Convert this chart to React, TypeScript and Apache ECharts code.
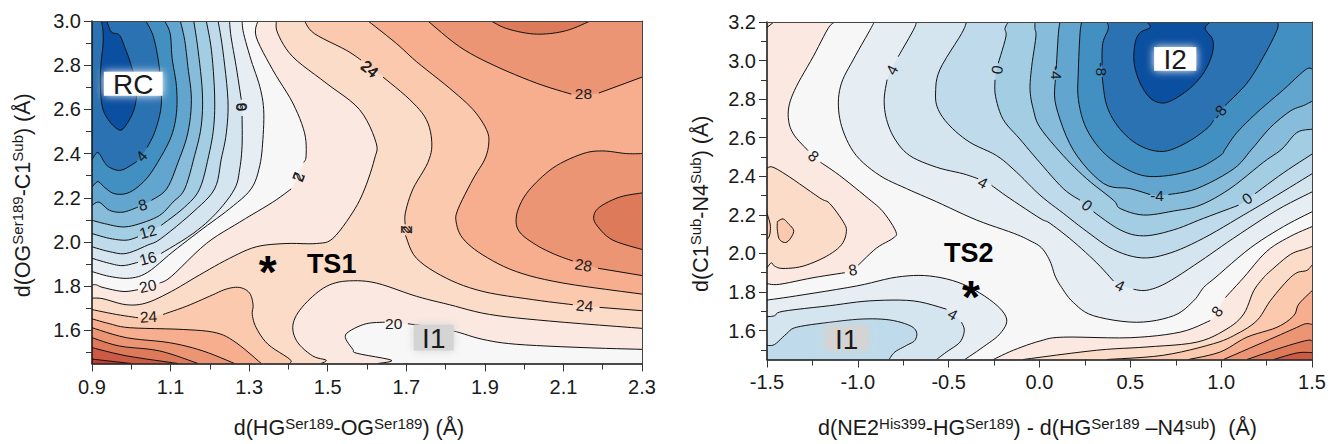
import React, { useEffect, useRef } from "react";
import * as echarts from "echarts";

type Pt = number[] | null;
const n = null;

// ---- Contours of the left surface, one list per line, in axis units (x, y); null lifts the pen at a label ----
const L2: Pt[] = [[.924,3],[.928,2.951],[.928,2.891],[.923,2.809],[.921,2.719],[.926,2.614],[.941,2.554],[.964,2.512],[.979,2.512],[1.0,2.569],[1.011,2.629],[1.013,2.704],[.998,2.809],[.983,2.883],[.97,2.936],[.949,2.951],[.938,3]];
const L4: Pt[] = [[1.037,3],[1.055,2.936],[1.068,2.831],[1.076,2.704],[1.075,2.599],[1.059,2.494],[1.04,2.427],n,[1.014,2.364],[.975,2.325],[.945,2.337],[.932,2.36],[.915,2.405],[.9,2.372]];
const L6: Pt[] = [[1.085,3],[1.099,2.943],[1.104,2.831],[1.115,2.704],[1.115,2.584],[1.102,2.479],[1.072,2.375],[1.038,2.285],[.996,2.225],[.958,2.218],[.932,2.247],[.915,2.273],[.9,2.248]];
const L8: Pt[] = [[1.125,3],[1.136,2.913],[1.144,2.794],[1.153,2.644],[1.144,2.494],[1.119,2.36],[1.09,2.24],[1.051,2.188],n,[1.017,2.158],[.979,2.135],[.945,2.143],[.918,2.18],[.9,2.165]];
const L10: Pt[] = [[1.159,3],[1.17,2.868],[1.181,2.674],[1.178,2.524],[1.161,2.39],[1.136,2.24],[1.106,2.18],[1.072,2.12],[1.022,2.083],[.979,2.068],[.932,2.083],[.9,2.098]];
const L12: Pt[] = [[1.191,3],[1.204,2.868],[1.212,2.674],[1.21,2.524],[1.197,2.39],[1.174,2.24],[1.136,2.158],[1.076,2.075],n,[1.017,2.023],[.987,2.008],[.945,2.016],[.9,2.038]];
const L14: Pt[] = [[1.221,3],[1.233,2.868],[1.246,2.644],[1.242,2.494],[1.229,2.375],[1.212,2.24],[1.157,2.135],[1.076,2.016],[1.042,1.986],[.987,1.948],[.945,1.956],[.9,1.978]];
const L16: Pt[] = [[1.25,3],[1.254,2.928],[1.267,2.794],[1.28,2.644],n,[1.282,2.57],[1.282,2.435],[1.276,2.33],[1.263,2.24],[1.216,2.13],[1.157,2.038],[1.076,1.948],n,[1.017,1.908],[.979,1.893],[.945,1.903],[.9,1.926]];
const L18: Pt[] = [[1.282,3],[1.286,2.943],[1.305,2.823],[1.327,2.704],[1.337,2.599],[1.335,2.464],[1.327,2.345],[1.305,2.24],[1.25,2.15],[1.182,2.06],[1.106,1.956],[1.042,1.863],[.996,1.836],[.945,1.844],[.9,1.866]];
const L20: Pt[] = [[1.322,3],[1.318,2.928],[1.36,2.779],[1.411,2.629],[1.441,2.494],[1.445,2.39],[1.439,2.36],n,[1.407,2.24],[1.36,2.18],[1.276,2.09],[1.191,1.993],[1.102,1.844],[1.072,1.814],n,[1.017,1.784],[.979,1.776],[.928,1.794],[.911,1.806],[.9,1.806]];
const L20i: Pt[] = [[2.3,1.514],[2.15,1.522],[1.98,1.537],[1.895,1.559],[1.827,1.594],[1.776,1.612],[1.704,1.63],n,[1.645,1.637],[1.598,1.63],[1.556,1.597],[1.545,1.567],[1.564,1.514],[1.575,1.496],[1.662,1.465],[1.628,1.45]];
const L22: Pt[] = [[1.369,3],[1.373,2.943],[1.411,2.838],[1.496,2.719],[1.581,2.599],[1.623,2.45],[1.619,2.375],[1.594,2.24],[1.564,2.135],[1.513,2.016],[1.471,1.993],[1.394,1.993],[1.318,1.978],[1.25,1.926],[1.174,1.851],[1.102,1.776],[1.038,1.724],[.987,1.716],[.928,1.743],[.9,1.746]];
const L22i: Pt[] = [[2.3,1.609],[2.065,1.642],[1.912,1.672],[1.81,1.716],[1.726,1.754],[1.624,1.814],[1.556,1.824],[1.505,1.806],[1.462,1.754],[1.424,1.679],[1.411,1.612],[1.424,1.544],[1.462,1.484],[1.496,1.465],[1.483,1.45]];
const L24: Pt[] = [[1.441,3],[1.466,2.943],[1.547,2.868],[1.585,2.823],n,[1.641,2.746],[1.709,2.644],[1.751,2.554],[1.765,2.449],[1.755,2.36],[1.717,2.24],[1.698,2.135],[1.697,2.08],n,[1.698,2.03],[1.726,1.926],[1.802,1.836],[1.895,1.776],[2.022,1.739],[2.124,1.716],n,[2.192,1.704],[2.3,1.689]];
const L24b: Pt[] = [[.9,1.694],[.962,1.672],[1.017,1.657],n,[1.081,1.672],[1.14,1.709],[1.199,1.754],[1.242,1.787],[1.276,1.794],[1.301,1.769],[1.31,1.716],[1.308,1.672],[1.318,1.612],[1.348,1.537],[1.403,1.47],[1.403,1.45]];
const L26: Pt[] = [[1.603,3],[1.675,2.898],[1.726,2.816],[1.81,2.696],[1.87,2.599],[1.904,2.509],[1.91,2.449],[1.9,2.375],[1.87,2.285],[1.832,2.15],[1.827,2.09],[1.844,2.016],[1.895,1.941],[1.98,1.866],[2.099,1.814],[2.3,1.764]];
const L26b: Pt[] = [[.9,1.652],[.945,1.63],[.996,1.612],[1.132,1.604],[1.216,1.589],[1.267,1.544],[1.331,1.45]];
const L28: Pt[] = [[1.755,3],[1.836,2.883],[1.921,2.801],[2.031,2.719],[2.12,2.669],n,[2.19,2.674],[2.3,2.746]];
const L28r: Pt[] = [[2.3,2.4],[2.26,2.4],[2.2,2.412],[2.15,2.4],[2.082,2.345],[2.031,2.27],[1.997,2.195],[1.98,2.113],[1.988,2.046],[2.031,1.986],[2.082,1.941],[2.124,1.914],n,[2.188,1.881],[2.3,1.848]];
const L28b: Pt[] = [[.9,1.612],[.987,1.567],[1.098,1.544],[1.182,1.507],[1.263,1.45]];
const L30: Pt[] = [[1.916,3],[1.955,2.966],[2.014,2.943],[2.065,2.943],[2.116,2.961],[2.168,3]];
const L30r: Pt[] = [[2.3,2.222],[2.243,2.203],[2.192,2.158],[2.177,2.113],[2.188,2.068],[2.226,2.008],[2.3,1.966]];
const L30b: Pt[] = [[.9,1.567],[.97,1.529],[1.072,1.507],[1.17,1.45]];
const L32b: Pt[] = [[.9,1.522],[.987,1.485],[1.119,1.45]];
const L34b: Pt[] = [[.9,1.47],[1.0,1.45]];

// ---- Contours of the right surface ----
const Rm10: Pt[] = [[.591,3.2],[.609,3.171],[.554,3.145],[.526,3.089],[.521,2.986],[.554,2.883],[.609,2.806],[.673,2.78],[.738,2.798],[.83,2.858],[.903,2.935],[.949,3.029],[.954,3.106],[.912,3.166],[.94,3.2]];
const Rm8: Pt[] = [[.37,3.2],[.379,3.166],[.348,3.089],[.344,2.975],n,[.345,2.915],[.371,2.764],[.444,2.644],[.554,2.558],[.682,2.529],[.811,2.575],[.921,2.647],[.958,2.69],n,[1.022,2.767],[1.142,2.883],[1.233,3.02],[1.307,3.157],[1.311,3.2]];
const Rm6: Pt[] = [[.232,3.2],[.223,3.14],[.214,2.952],[.214,2.798],[.26,2.644],[.37,2.507],[.535,2.413],[.682,2.401],[.866,2.439],[.995,2.507],[1.022,2.541],[1.087,2.627],[1.197,2.73],[1.344,2.85],[1.463,2.952],[1.5,2.957]];
const Rm4: Pt[] = [[.113,3.2],[.104,3.14],[.092,2.958],n,[.087,2.9],[.091,2.764],[.187,2.534],[.352,2.363],[.499,2.336],[.609,2.305],n,[.71,2.305],[.866,2.336],[1.068,2.438],[1.169,2.541],[1.27,2.652],[1.38,2.738],[1.454,2.767],[1.5,2.789]];
const Rm2: Pt[] = [[-.025,3.2],[-.025,3.166],[-.02,3.123],[-.043,2.969],[-.052,2.849],[-.034,2.747],[.003,2.653],[.131,2.507],[.26,2.387],[.407,2.276],[.444,2.233],[.573,2.199],[.738,2.22],[.884,2.25],[1.049,2.336],[1.233,2.473],[1.334,2.541],[1.417,2.627],[1.5,2.644]];
const R0: Pt[] = [[-.172,3.2],[-.19,3.166],[-.185,3.123],[-.227,2.986],n,[-.245,2.9],[-.242,2.815],[-.2,2.695],[-.108,2.593],[0,2.473],[.131,2.336],[.223,2.276],n,[.297,2.216],[.444,2.122],[.573,2.091],[.738,2.122],[.903,2.182],[1.096,2.25],n,[1.187,2.31],[1.343,2.418],[1.5,2.515]];
const R2: Pt[] = [[-.402,3.2],[-.429,3.14],[-.549,2.952],[-.572,2.832],[-.558,2.747],[-.493,2.661],[-.383,2.576],[-.236,2.507],[-.126,2.421],[.003,2.302],[.131,2.208],[.26,2.114],[.407,2.02],[.563,1.977],[.719,2.002],[.903,2.079],[1.123,2.199],[1.306,2.301],[1.5,2.413]];
const R4: Pt[] = [[-.677,3.2],[-.695,3.157],[-.778,3.02],n,[-.839,2.901],[-.855,2.798],[-.842,2.695],[-.796,2.593],[-.714,2.507],[-.567,2.447],[-.42,2.413],[-.337,2.387],n,[-.264,2.353],[-.163,2.285],[.003,2.182],[.058,2.156],[.186,2.062],[.315,1.951],[.407,1.857],n,[.517,1.814],[.591,1.809],[.701,1.848],[.884,1.959],[1.068,2.079],[1.306,2.224],[1.5,2.319]];
const R6: Pt[] = [[-.91,3.2],[-.934,3.157],[-1.026,3.003],[-1.09,2.883],[-1.107,2.764],[-1.081,2.635],[-1.008,2.507],[-.879,2.404],[-.732,2.336],[-.567,2.268],[-.346,2.173],[-.144,2.105],[-.052,2.066],[.012,2.028],[.058,1.96],[.086,1.883],[.122,1.823],[.186,1.746],[.297,1.677],[.535,1.643],[.738,1.677],[.848,1.754],[.903,1.823],[.967,1.874],[1.16,2.028],[1.343,2.139],[1.5,2.216]];
const R2b: Pt[] = [[-1.5,1.523],[-1.458,1.528],[-1.393,1.583],[-1.338,1.617],[-1.155,1.643],[-.971,1.66],[-.824,1.655],[-.714,1.626],[-.677,1.592],[-.686,1.549],[-.732,1.523],[-.796,1.489],[-.828,1.45]];
const R4b: Pt[] = [[-1.5,1.672],[-1.458,1.677],[-1.412,1.7],[-1.155,1.729],[-.934,1.754],[-.695,1.754],[-.512,1.711],n,[-.429,1.643],[-.414,1.6],[-.438,1.54],[-.512,1.489],[-.567,1.45]];
const R6b: Pt[] = [[-1.5,1.758],[-1.338,1.78],[-1.008,1.831],[-.787,1.877],[-.604,1.883],[-.42,1.84],[-.254,1.746],[-.181,1.66],[-.218,1.583],[-.31,1.515],[-.411,1.45]];
const R8a: Pt[] = [[-1.127,3.2],[-1.164,3.166],[-1.246,3.02],[-1.338,2.866],[-1.379,2.764],[-1.379,2.678],[-1.348,2.61],[-1.274,2.533],n,[-1.206,2.473],[-1.1,2.404],[-.943,2.285],[-.861,2.216],[-.791,2.114],[-.806,2.079],[-.897,2.028],[-.998,1.939],n,[-1.072,1.9],[-1.247,1.874],[-1.43,1.84],[-1.5,1.843]];
const R8b: Pt[] = [[-.254,1.45],[-.144,1.498],[.003,1.546],[.131,1.566],[.499,1.563],[.775,1.592],[.94,1.652],n,[1.023,1.771],[1.123,1.874],[1.251,2.011],[1.38,2.088],[1.5,2.139]];
const R10a: Pt[] = [[-1.5,3.171],[-1.463,3.2]];
const R10c: Pt[] = [[-1.5,2.442],[-1.467,2.447],[-1.375,2.396],[-1.21,2.288],[-1.155,2.259],[-1.081,2.165],[-1.063,2.114],[-1.09,2.045],[-1.173,1.985],[-1.302,1.934],[-1.412,1.922],[-1.458,1.934],[-1.476,1.951],[-1.5,1.925]];
const R10b: Pt[] = [[-.09,1.45],[.315,1.498],[.591,1.515],[.866,1.54],[1.032,1.609],[1.124,1.686],[1.179,1.806],[1.233,1.874],[1.27,1.908],[1.38,1.994],[1.463,2.023],[1.5,2.036]];
const R12a: Pt[] = [[-1.5,2.208],[-1.482,2.148],[-1.485,2.096],[-1.5,2.071]];
const R12c: Pt[] = [[-1.443,2.165],[-1.412,2.179],[-1.384,2.156],[-1.353,2.114],[-1.39,2.059],[-1.43,2.071],[-1.443,2.122],[-1.443,2.165]];
const R12b: Pt[] = [[.37,1.45],[.682,1.472],[.958,1.532],[1.087,1.583],[1.197,1.652],[1.27,1.754],[1.362,1.857],[1.417,1.9],[1.472,1.912],[1.5,1.94]];
const R14: Pt[] = [[.82,1.45],[.995,1.489],[1.142,1.566],[1.307,1.617],[1.399,1.677],[1.427,1.737],[1.5,1.806]];
const R16: Pt[] = [[1.013,1.45],[1.233,1.54],[1.399,1.609],[1.463,1.635],[1.5,1.632]];
const R18: Pt[] = [[1.142,1.45],[1.344,1.515],[1.472,1.549],[1.5,1.546]];
const R20: Pt[] = [[1.289,1.45],[1.417,1.484],[1.5,1.486]];

// ---- Band colours, coolest to warmest ----
const BLUE = ["#0b4fa0", "#2b72b3", "#428fc1", "#62a5cf", "#87bcdb", "#a3cde3", "#bfdbeb", "#d5e5f0", "#e6eef4"];
const WHITE = "#f7f7f7";
const RED = ["#fbe9e1", "#fbdcc9", "#fbc9ae", "#f6ae8e", "#ec9575", "#dd7a59", "#cc5a44", "#c43c30"];

type Region = { line: Pt[]; color: string; close?: number[][] };

const xL = 0.9, XL = 2.3, yL = 1.45, YL = 3.0;
const xR = -1.5, XR = 1.5, yR = 1.45, YR = 3.2;

// painted in order
const leftRegions: Region[] = [
  { line: L18, color: BLUE[8], close: [[xL, YL]] },
  { line: L16, color: BLUE[7], close: [[xL, YL]] },
  { line: L14, color: BLUE[6], close: [[xL, YL]] },
  { line: L12, color: BLUE[5], close: [[xL, YL]] },
  { line: L10, color: BLUE[4], close: [[xL, YL]] },
  { line: L8, color: BLUE[3], close: [[xL, YL]] },
  { line: L6, color: BLUE[2], close: [[xL, YL]] },
  { line: L4, color: BLUE[1], close: [[xL, YL]] },
  { line: L2, color: BLUE[0] },
  { line: L20, color: RED[0], close: [[xL, yL], [XL, yL], [XL, YL]] },
  { line: L22, color: RED[1], close: [[xL, yL], [XL, yL], [XL, YL]] },
  { line: L22i, color: RED[0], close: [[XL, yL]] },
  { line: L20i, color: WHITE, close: [[XL, yL]] },
  { line: L24, color: RED[2], close: [[XL, YL]] },
  { line: L24b, color: RED[2], close: [[xL, yL]] },
  { line: L26, color: RED[3], close: [[XL, YL]] },
  { line: L26b, color: RED[3], close: [[xL, yL]] },
  { line: L28, color: RED[4], close: [[XL, YL]] },
  { line: L28r, color: RED[4] },
  { line: L28b, color: RED[4], close: [[xL, yL]] },
  { line: L30, color: RED[5] },
  { line: L30r, color: RED[5] },
  { line: L30b, color: RED[5], close: [[xL, yL]] },
  { line: L32b, color: RED[6], close: [[xL, yL]] },
  { line: L34b, color: RED[7], close: [[xL, yL]] },
];
const rightRegions: Region[] = [
  { line: R6, color: BLUE[8], close: [[XR, YR]] },
  { line: R6b, color: BLUE[8], close: [[xR, yR]] },
  { line: R4, color: BLUE[7], close: [[XR, YR]] },
  { line: R4b, color: BLUE[7], close: [[xR, yR]] },
  { line: R2, color: BLUE[6], close: [[XR, YR]] },
  { line: R2b, color: BLUE[6], close: [[xR, yR]] },
  { line: R0, color: BLUE[5], close: [[XR, YR]] },
  { line: Rm2, color: BLUE[4], close: [[XR, YR]] },
  { line: Rm4, color: BLUE[3], close: [[XR, YR]] },
  { line: Rm6, color: BLUE[2], close: [[XR, YR]] },
  { line: Rm8, color: BLUE[1] },
  { line: Rm10, color: BLUE[0] },
  { line: R8a, color: RED[0], close: [[xR, YR]] },
  { line: R8b, color: RED[0], close: [[XR, yR]] },
  { line: R10a, color: RED[1], close: [[xR, YR]] },
  { line: R10c, color: RED[1] },
  { line: R10b, color: RED[1], close: [[XR, yR]] },
  { line: R12a, color: RED[2] },
  { line: R12c, color: RED[2] },
  { line: R12b, color: RED[2], close: [[XR, yR]] },
  { line: R14, color: RED[3], close: [[XR, yR]] },
  { line: R16, color: RED[4], close: [[XR, yR]] },
  { line: R18, color: RED[5], close: [[XR, yR]] },
  { line: R20, color: RED[6], close: [[XR, yR]] },
];

// ---- Contour labels: x, y, text, rotation in degrees ----
type Lab = [number, number, string, number];
const leftLabels: Lab[] = [
  [1.029, 2.168, "8", 15], [1.042, 2.047, "12", 15], [1.042, 1.926, "16", 15], [1.042, 1.8, "20", 12], [1.044, 1.661, "24", 3],
  [1.026, 2.388, "4", 48], [1.28, 2.611, "6", 90], [1.28, 2.611, "6", -90],
  [1.426, 2.294, "2", 70], [1.426, 2.294, "2", -110],
  [1.701, 2.056, "2", 90], [1.701, 2.056, "2", -90],
  [1.607, 2.783, "24", -35], [1.607, 2.783, "24", -45],
  [2.151, 2.671, "28", 0], [2.151, 1.895, "28", -10], [2.154, 1.711, "24", -5], [1.668, 1.63, "20", 0],
];
const rightLabels: Lab[] = [
  [-.813, 2.952, "4", 62], [-.234, 2.952, "0", 80], [-1.243, 2.505, "8", -40], [-.311, 2.367, "4", -28],
  [-1.028, 1.915, "8", 10], [-.477, 1.684, "4", -30], [.091, 2.937, "-4", -90], [.344, 2.955, "-8", -90],
  [.989, 2.731, "-8", 50], [.647, 2.3, "-4", 0], [.262, 2.249, "0", -40], [1.143, 2.285, "0", 35],
  [.443, 1.833, "4", -25], [.978, 1.699, "8", 50],
];

// ---- Callouts: box corners in axis units, text ----
const leftBoxes = [{ a: [.92, 2.788], b: [1.09, 2.644], fill: "#ffffff", text: "RC" }, { a: [1.709, 1.643], b: [1.831, 1.491], fill: "#d4d4d4", text: "I1" }];
const rightBoxes = [{ a: [.609, 3.091], b: [.885, 2.926], fill: "#ffffff", text: "I2" }, { a: [-1.199, 1.643], b: [-.923, 1.479], fill: "#d4d4d4", text: "I1" }];
const leftMarks: Lab[] = [[1.51, 1.899, "TS1", 0]];
const rightMarks: Lab[] = [[-.389, 2.002, "TS2", 0]];
const leftStars = [[1.347, 1.899]];
const rightStars = [[-.378, 1.818]];

// ---- Axis ticks ----
const xMajorL = [0.9, 1.1, 1.3, 1.5, 1.7, 1.9, 2.1, 2.3];
const xMinorL = [1.0, 1.2, 1.4, 1.6, 1.8, 2.0, 2.2];
const yMajorL = [1.6, 1.8, 2.0, 2.2, 2.4, 2.6, 2.8, 3.0];
const yMinorL = [1.5, 1.7, 1.9, 2.1, 2.3, 2.5, 2.7, 2.9];
const xMajorR = [-1.5, -1.0, -0.5, 0, 0.5, 1.0, 1.5];
const xMinorR = [-1.25, -0.75, -0.25, 0.25, 0.75, 1.25];
const yMajorR = [1.6, 1.8, 2.0, 2.2, 2.4, 2.6, 2.8, 3.0, 3.2];
const yMinorR = [1.5, 1.7, 1.9, 2.1, 2.3, 2.5, 2.7, 2.9, 3.1];

const FONT = "Liberation Sans";
const TXT = "#1a1a1a";

function smooth(pts: number[][]): number[][] {
  if (pts.length < 3) return pts;
  const out: number[][] = [];
  for (let i = 0; i < pts.length - 1; i++) {
    const p0 = pts[Math.max(i - 1, 0)], p1 = pts[i], p2 = pts[i + 1], p3 = pts[Math.min(i + 2, pts.length - 1)];
    for (let k = 0; k < 6; k++) {
      const t = k / 6, t2 = t * t, t3 = t2 * t;
      out.push([0, 1].map((d) => 0.5 * (2 * p1[d] + (p2[d] - p0[d]) * t + (2 * p0[d] - 5 * p1[d] + 4 * p2[d] - p3[d]) * t2 + (3 * p1[d] - p0[d] - 3 * p2[d] + p3[d]) * t3)));
    }
  }
  out.push(pts[pts.length - 1]);
  return out;
}

function segments(line: Pt[]): number[][][] {
  const segs: number[][][] = [[]];
  line.forEach((p) => (p ? segs[segs.length - 1].push(p) : segs.push([])));
  return segs;
}

function panelSeries(regions: Region[], labels: Lab[], boxes: any[], marks: Lab[], stars: number[][], ax: number) {
  const common = { type: "custom", xAxisIndex: ax, yAxisIndex: ax, silent: true, clip: true };
  return [
    {
      ...common,
      data: regions.map((_, i) => [i, 0]),
      renderItem: (p: any, api: any) => {
        const r = regions[p.dataIndex];
        const path = smooth(r.line.filter(Boolean).map((q) => api.coord(q as number[])));
        const closure = (r.close || []).map((c) => api.coord(c));
        return { type: "polygon", shape: { points: [...path, ...closure] }, style: { fill: r.color } };
      },
    },
    {
      ...common,
      data: regions.map((_, i) => [i, 0]),
      renderItem: (p: any, api: any) => {
        const r = regions[p.dataIndex];
        return {
          type: "group",
          children: segments(r.line).map((s) => ({
            type: "polyline",
            shape: { points: smooth(s.map((q) => api.coord(q))) },
            style: { fill: "none", stroke: "#111111", lineWidth: 1 },
          })),
        };
      },
    },
    {
      ...common,
      data: labels.map((_, i) => [i, 0]),
      renderItem: (p: any, api: any) => {
        const l = labels[p.dataIndex];
        const c = api.coord([l[0], l[1]]);
        return {
          type: "text", x: c[0], y: c[1], rotation: (l[3] * Math.PI) / 180,
          style: { text: l[2], fontSize: 15.5, fontFamily: FONT, fill: TXT, align: "center", verticalAlign: "middle" },
        };
      },
    },
    {
      ...common,
      clip: false,
      data: boxes.map((_, i) => [i, 0]),
      renderItem: (p: any, api: any) => {
        const b = boxes[p.dataIndex];
        const a = api.coord(b.a), e = api.coord(b.b);
        const inset = 4;
        return {
          type: "group",
          children: [
            {
              type: "rect",
              shape: { x: a[0] + inset, y: a[1] + inset, width: e[0] - a[0] - 2 * inset, height: e[1] - a[1] - 2 * inset },
              style: { fill: b.fill, shadowBlur: 9, shadowColor: b.fill },
            },
            {
              type: "text", x: (a[0] + e[0]) / 2, y: (a[1] + e[1]) / 2 + 1,
              style: { text: b.text, fontSize: 28, fontFamily: FONT, fill: TXT, align: "center", verticalAlign: "middle" },
            },
          ],
        };
      },
    },
    {
      ...common,
      clip: false,
      data: marks.map((_, i) => [i, 0]),
      renderItem: (p: any, api: any) => {
        const m = marks[p.dataIndex];
        const c = api.coord([m[0], m[1]]);
        return {
          type: "text", x: c[0], y: c[1],
          style: { text: m[2], fontSize: 27, fontWeight: "bold", fontFamily: FONT, fill: "#000", align: "center", verticalAlign: "middle" },
        };
      },
    },
    {
      ...common,
      clip: false,
      data: stars.map((_, i) => [i, 0]),
      renderItem: (p: any, api: any) => {
        const c = api.coord(stars[p.dataIndex]);
        return {
          type: "text", x: c[0], y: c[1] + 8,
          style: { text: "*", fontSize: 46, fontWeight: "bold", fontFamily: FONT, fill: "#000", align: "center", verticalAlign: "middle" },
        };
      },
    },
  ];
}

const nameRich = {
  m: { fontSize: 21.5, fontFamily: FONT, color: TXT },
  s: { fontSize: 15, fontFamily: FONT, color: TXT, padding: [0, 0, 10, 0] },
};

function axisTriple(gridIndex: number, dim: "x" | "y", min: number, max: number, major: number[], minor: number[], name: string, gap: number, margin: number, pad: number[]) {
  const low = dim === "x" ? "bottom" : "left";
  const high = dim === "x" ? "top" : "right";
  return [
    {
      type: "value", gridIndex, position: low, min, max, z: 10, splitLine: { show: false },
      axisLine: { show: true, onZero: false, lineStyle: { color: "#111", width: 1.5 } },
      axisTick: { show: true, length: 8, customValues: major, lineStyle: { color: "#333", width: 1 } },
      axisLabel: { show: true, customValues: major, margin, fontSize: 20, fontFamily: FONT, color: TXT, formatter: (v: number) => v.toFixed(1) },
      name, nameLocation: "middle", nameGap: gap, nameTextStyle: { rich: nameRich, fontSize: 21.5, fontFamily: FONT, color: TXT, padding: pad },
    },
    {
      type: "value", gridIndex, position: low, min, max, z: 10, splitLine: { show: false },
      axisLine: { show: false, onZero: false },
      axisTick: { show: true, length: 6, customValues: minor, lineStyle: { color: "#333", width: 1 } },
      axisLabel: { show: false },
    },
    {
      type: "value", gridIndex, position: high, min, max, z: 10, splitLine: { show: false },
      axisLine: { show: true, onZero: false, lineStyle: { color: "#444", width: 1 } },
      axisTick: { show: false }, axisLabel: { show: false },
    },
  ];
}

export default function App() {
  const ref = useRef<HTMLDivElement>(null);
  useEffect(() => {
    document.body.style.margin = "0";
    const chart = echarts.init(ref.current!, null, { renderer: "svg" });
    chart.setOption({
      animation: false,
      backgroundColor: "#ffffff",
      grid: [
        { left: 92, top: 21, width: 550, height: 345, containLabel: false, show: true, backgroundColor: WHITE, borderWidth: 0 },
        { left: 767, top: 22, width: 545, height: 340, containLabel: false, show: true, backgroundColor: WHITE, borderWidth: 0 },
      ],
      xAxis: [
        ...axisTriple(0, "x", xL, XL, xMajorL, xMinorL, "{m|d(HG}{s|Ser189}{m|-OG}{s|Ser189}{m|) (Å)}", 52, 13, [0, 36, 0, 0]),
        ...axisTriple(1, "x", xR, XR, xMajorR, xMinorR, "{m|d(NE2}{s|His399}{m|-HG}{s|Ser189}{m|) - d(HG}{s|Ser189}{m| –N4}{s|sub}{m|)  (Å)}", 56, 12, [0, 4, 0, 0]),
      ],
      yAxis: [
        ...axisTriple(0, "y", yL, YL, yMajorL, yMinorL, "{m|d(OG}{s|Ser189}{m|-C1}{s|Sub}{m|) (Å)}", 57, 11, [0, 6, 0, 0]),
        ...axisTriple(1, "y", yR, YR, yMajorR, yMinorR, "{m|d(C1}{s|Sub}{m|-N4}{s|Sub}{m|) (Å)}", 54, 11, [0, 26, 0, 0]),
      ],
      series: [
        ...panelSeries(leftRegions, leftLabels, leftBoxes, leftMarks, leftStars, 0),
        ...panelSeries(rightRegions, rightLabels, rightBoxes, rightMarks, rightStars, 3),
      ],
    });
    return () => chart.dispose();
  }, []);
  return <div ref={ref} style={{ width: 1331, height: 444 }} />;
}
